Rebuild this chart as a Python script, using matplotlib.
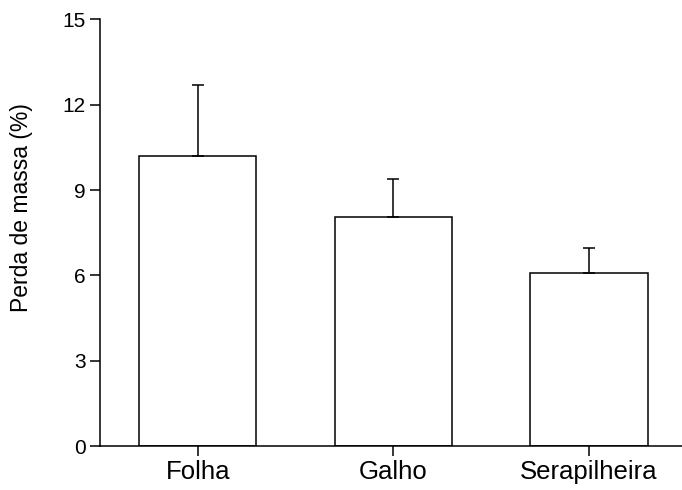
import numpy as np
import matplotlib.pyplot as plt

categories = ["Folha", "Galho", "Serapilheira"]
mass_loss = [10.18, 8.05, 6.08]
mass_loss_err = [2.5, 1.35, 0.87]

plt.rcParams["font.family"] = ["Liberation Sans", "DejaVu Sans"]

fig = plt.figure(figsize=(6.82, 4.9), dpi=100)
ax = fig.add_axes([0.1466, 0.0888, 0.8534, 0.8724])

x = np.arange(len(categories))
ax.bar(x, mass_loss, width=0.6, color="white", edgecolor="black", linewidth=1.1,
       yerr=[np.zeros(len(mass_loss)), mass_loss_err],
       error_kw=dict(ecolor="black", elinewidth=1.1, capsize=4, capthick=1.1))

ax.set_xlim(-0.5, 2.476)
ax.set_ylim(0, 15)
ax.set_yticks([0, 3, 6, 9, 12, 15])
ax.set_xticks(x)
ax.set_xticklabels(categories)
ax.set_ylabel("Perda de massa (%)", fontsize=16.5)
ax.yaxis.set_label_coords(-0.115, 0.56)

ax.spines["right"].set_visible(False)
ax.spines["top"].set_visible(False)
ax.spines["left"].set_linewidth(1.1)
ax.spines["bottom"].set_linewidth(1.1)
ax.tick_params(axis="both", direction="out", length=7, width=1.1, pad=4)
ax.tick_params(axis="y", labelsize=15, pad=3.5)
ax.tick_params(axis="x", labelsize=18.5, pad=3)

fig.savefig("out.png", dpi=100)
